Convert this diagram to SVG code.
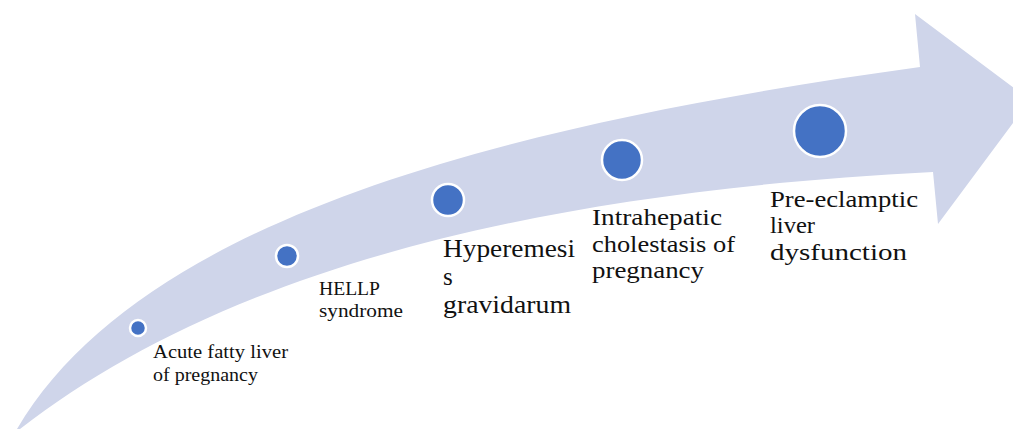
<svg xmlns="http://www.w3.org/2000/svg" width="1013" height="429" viewBox="0 0 1013 429">
<style>
.band{fill:#CFD5EA;stroke:none}
.dot{fill:#4472C4;stroke:#FFFFFF;stroke-width:2.5}
.lbl{font-family:"Liberation Serif","Times New Roman",serif;fill:#111111}
.s{font-size:18.5px}
.m{font-size:24px}
</style>
<rect width="1013" height="429" fill="#FFFFFF"/>
<g id="connectors">
<path id="arrow" class="band" d="M17,429 C140,220 500,125 920,67 L915,14 L1030,100 L938,224 L933,172 C480,195 200,290 20,429 Z"/>
</g>
<g id="node-aflp">
<circle class="dot" cx="138" cy="328" r="8"/>
<text class="lbl s"><tspan x="153" y="358" textLength="135" lengthAdjust="spacingAndGlyphs">Acute fatty liver</tspan><tspan x="153" y="381" textLength="105" lengthAdjust="spacingAndGlyphs">of pregnancy</tspan></text>
</g>
<g id="node-hellp">
<circle class="dot" cx="287" cy="256" r="11"/>
<text class="lbl s"><tspan x="319" y="295" textLength="61" lengthAdjust="spacingAndGlyphs">HELLP</tspan><tspan x="319" y="317" textLength="84" lengthAdjust="spacingAndGlyphs">syndrome</tspan></text>
</g>
<g id="node-hg">
<circle class="dot" cx="448" cy="200" r="16"/>
<text class="lbl m" style="font-size:25px"><tspan x="443" y="257" textLength="132" lengthAdjust="spacingAndGlyphs">Hyperemesi</tspan><tspan x="443" y="285">s</tspan><tspan x="443" y="313" textLength="128" lengthAdjust="spacingAndGlyphs">gravidarum</tspan></text>
</g>
<g id="node-icp">
<circle class="dot" cx="622" cy="160" r="20"/>
<text class="lbl m"><tspan x="592" y="225" textLength="130" lengthAdjust="spacingAndGlyphs">Intrahepatic</tspan><tspan x="592" y="252" textLength="143" lengthAdjust="spacingAndGlyphs">cholestasis of</tspan><tspan x="592" y="278" textLength="112" lengthAdjust="spacingAndGlyphs">pregnancy</tspan></text>
</g>
<g id="node-pe">
<circle class="dot" cx="820" cy="131" r="26"/>
<text class="lbl m"><tspan x="770" y="207" textLength="148" lengthAdjust="spacingAndGlyphs">Pre-eclamptic</tspan><tspan x="770" y="233" textLength="45" lengthAdjust="spacingAndGlyphs">liver</tspan><tspan x="770" y="260" textLength="137" lengthAdjust="spacingAndGlyphs">dysfunction</tspan></text>
</g>
</svg>
